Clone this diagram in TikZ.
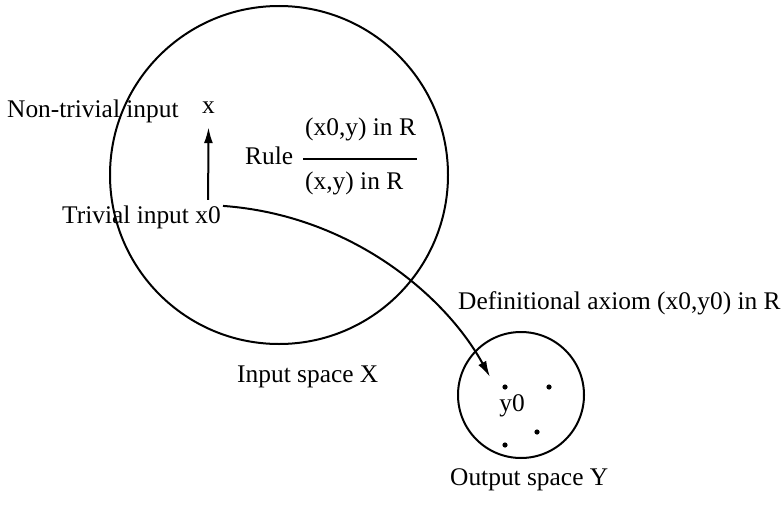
\documentclass[tikz,border=0pt]{standalone}
\usepackage{fontspec}
\setmainfont{Liberation Serif}
\usetikzlibrary{arrows.meta,positioning,calc}

\begin{document}
\begin{tikzpicture}[x=1pt,y=-1pt,
  txt/.style={inner sep=0pt, font=\fontsize{25.4}{30}\selectfont},
  lbl/.style={txt, anchor=base west},
  ln/.style={line width=2pt},
  arr/.style={ln, -{Latex[length=16pt,width=9pt]}}]
  \useasboundingbox (0,0) rectangle (782,506);

  % Input space X (big circle)
  \draw[ln] (279,175) circle (169pt);
  \node[lbl] (inX) at (237,382) {Input space X};

  % Output space Y (small circle)
  \draw[ln] (521,395) circle (63pt);
  \node[lbl] (outY) at (450,485) {Output space Y};
  \node[txt] (y0) at (512,406) {y0};
  \fill (505,387) circle (2.6pt);
  \fill (549,387) circle (2.6pt);
  \fill (537,432) circle (2.6pt);
  \fill (505,445) circle (2.6pt);

  % Inputs
  \node[lbl] (triv) at (62,223) {Trivial input};
  \node[txt, anchor=base east] (x0) at (221,223) {x0};
  \node[lbl] (ntriv) at (7,117) {Non-trivial input};
  \node[txt, anchor=base] (x) at (208.5,113) {x};
  \draw[arr] ([yshift=6pt]x0.north) -- ([yshift=-14pt]x.south);

  % Rule
  \node[lbl] (rule) at (245,164) {Rule};
  \node[lbl] (num) at (305,135) {(x0,y) in R};
  \node[lbl] (den) at (305,189) {(x,y) in R};
  \draw[line width=2.4pt] (303,159) -- (417,159);

  % Definitional axiom
  \node[lbl] (axiom) at (458,309) {Definitional axiom (x0,y0) in R};
  \coordinate (tip) at (490,377);
  \draw[arr] ([xshift=2pt]x0.north east) .. controls (350,215) and (445,295) .. (tip);
\end{tikzpicture}
\end{document}
